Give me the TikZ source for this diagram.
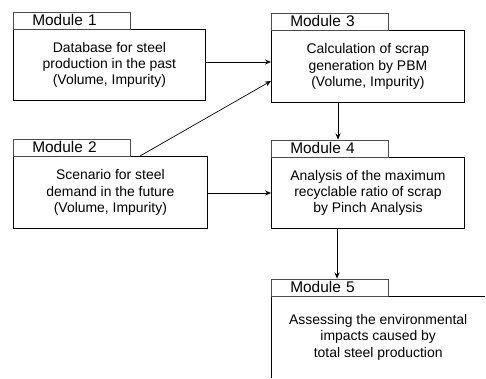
\documentclass[tikz,border=0pt]{standalone}
\usepackage{fontspec}
\setmainfont{Liberation Sans}
\usetikzlibrary{arrows.meta}
\begin{document}
\begin{tikzpicture}[x=1bp,y=-1bp,
  box/.style={draw, line width=0.8bp, inner sep=0, anchor=north west, align=center,
    font=\fontsize{14}{16.5}\selectfont},
  opbox/.style={inner sep=0, anchor=north west, align=center,
    font=\fontsize{14}{16.5}\selectfont},
  tab/.style={draw=black!70, line width=0.5bp, anchor=south west, inner ysep=0,
    inner xsep=19bp, text width=79bp, align=left, minimum height=17bp,
    font=\fontsize{15.5}{17}\selectfont},
  arr/.style={-{Stealth[length=6bp,width=5bp]}, line width=0.7bp}]
\useasboundingbox (0,0) rectangle (486,378);

% Module 1
\node[box, minimum width=192bp, minimum height=71bp] (b1) at (13,29)
  {Database for steel\\production in the past\\(Volume, Impurity)};
\node[tab] (t1) at (b1.north west) {Module 1};

% Module 2
\node[box, minimum width=194bp, minimum height=72bp] (b2) at (13,156)
  {Scenario for steel\\demand in the future\\(Volume, Impurity)};
\node[tab] (t2) at (b2.north west) {Module 2};

% Module 3
\node[box, minimum width=193bp, minimum height=72bp] (b3) at (271,30)
  {Calculation of scrap\\generation by PBM\\(Volume, Impurity)};
\node[tab] (t3) at (b3.north west) {Module 3};

% Module 4
\node[box, minimum width=193bp, minimum height=71bp] (b4) at (271,157)
  {Analysis of the maximum\\recyclable ratio of scrap\\by Pinch Analysis};
\node[tab] (t4) at (b4.north west) {Module 4};

% Module 5 (cut off at the right and bottom)
\node[opbox, minimum width=214bp, minimum height=82bp] (b5) at (271,296)
  {Assessing the environmental\\impacts caused by\\total steel production};
\draw[line width=0.8bp] (b5.north east) -- (b5.north west) -- (b5.south west);
\node[tab] (t5) at (b5.north west) {Module 5};

% connectors
\coordinate (s2) at ([xshift=127bp]b2.north west);
\draw[arr] (b1.east |- 0,62) -- (b3.west |- 0,62);
\draw[arr] (s2) -- (b3.west |- 0,81);
\draw[arr] (b2.east |- 0,193) -- (b4.west |- 0,193);
\draw[arr] (b3.south -| 338,0) -- (t4.north -| 338,0);
\draw[arr] (b4.south -| 337,0) -- (t5.north -| 337,0);
\end{tikzpicture}
\end{document}
